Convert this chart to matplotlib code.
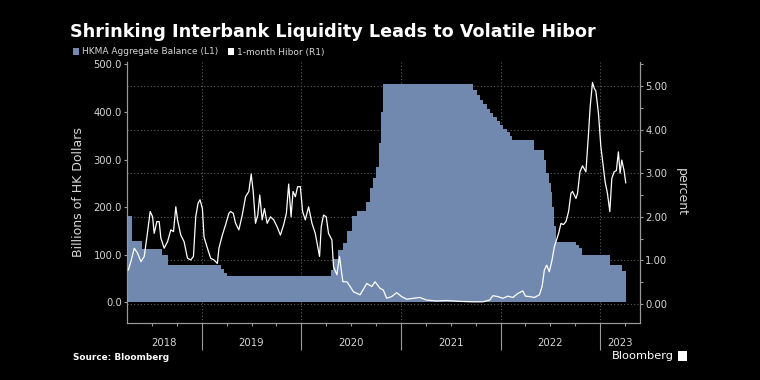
import matplotlib
matplotlib.use("Agg")
import matplotlib.pyplot as plt
import matplotlib.transforms as mtransforms
from matplotlib.patches import Patch, Rectangle
import numpy as np

# ---------------- data ----------------
# HKMA aggregate balance (billions HKD), step series: decimal year, value
bal_t = [2018.26, 2018.30, 2018.40, 2018.60, 2018.66, 2019.19, 2019.22, 2019.25,
         2020.30, 2020.32, 2020.37, 2020.42, 2020.46, 2020.51, 2020.56, 2020.65,
         2020.69, 2020.72, 2020.75, 2020.78, 2020.80, 2020.82, 2021.69, 2021.72,
         2021.76, 2021.79, 2021.82, 2021.86, 2021.89, 2021.92, 2021.96, 2021.99,
         2022.02, 2022.06, 2022.09, 2022.12, 2022.34, 2022.44, 2022.46, 2022.49,
         2022.51, 2022.52, 2022.54, 2022.56, 2022.76, 2022.79, 2022.82, 2023.10,
         2023.22, 2023.257]
bal_v = [181, 129, 111, 99, 78, 70, 62, 55,
         68, 90, 110, 125, 150, 182, 192, 210,
         240, 262, 285, 335, 400, 458, 458, 446,
         436, 425, 416, 407, 398, 390, 381, 372,
         365, 358, 350, 341, 321, 300, 272, 250,
         232, 200, 160, 127, 120, 114, 99, 78,
         66, 66]

# 1-month Hibor (percent)
hibor_t = [2018.263, 2018.29, 2018.323, 2018.357, 2018.39, 2018.423, 2018.45, 2018.483,
           2018.507, 2018.523, 2018.55, 2018.573, 2018.59, 2018.623, 2018.657, 2018.69,
           2018.717, 2018.74, 2018.757, 2018.79, 2018.823, 2018.857, 2018.89, 2018.917,
           2018.94, 2018.963, 2018.983, 2019.007, 2019.023, 2019.057, 2019.09, 2019.123,
           2019.157, 2019.173, 2019.207, 2019.24, 2019.273, 2019.29, 2019.317, 2019.34,
           2019.373, 2019.407, 2019.44, 2019.473, 2019.497, 2019.517, 2019.54, 2019.563,
           2019.583, 2019.607, 2019.63, 2019.657, 2019.69, 2019.723, 2019.757, 2019.79,
           2019.823, 2019.85, 2019.873, 2019.897, 2019.917, 2019.94, 2019.963, 2019.99,
           2020.013, 2020.04, 2020.073, 2020.107, 2020.14, 2020.183, 2020.2, 2020.223,
           2020.25, 2020.273, 2020.307, 2020.323, 2020.357, 2020.383, 2020.417, 2020.457,
           2020.49, 2020.523, 2020.59, 2020.657, 2020.707, 2020.74, 2020.79, 2020.823,
           2020.857, 2020.907, 2020.957, 2021.007, 2021.057, 2021.123, 2021.19, 2021.257,
           2021.357, 2021.457, 2021.59, 2021.723, 2021.823, 2021.89, 2021.923, 2021.973,
           2022.023, 2022.073, 2022.123, 2022.173, 2022.223, 2022.25, 2022.29, 2022.34,
           2022.39, 2022.417, 2022.44, 2022.463, 2022.49, 2022.517, 2022.54, 2022.557,
           2022.583, 2022.607, 2022.63, 2022.657, 2022.683, 2022.707, 2022.723, 2022.757,
           2022.773, 2022.797, 2022.823, 2022.857, 2022.883, 2022.9, 2022.923, 2022.94,
           2022.957, 2022.983, 2023.007, 2023.03, 2023.05, 2023.073, 2023.097, 2023.117,
           2023.14, 2023.163, 2023.183, 2023.2, 2023.217, 2023.24, 2023.257]
hibor_v = [0.78, 0.98, 1.28, 1.16, 0.97, 1.09, 1.54, 2.12,
           2.00, 1.62, 1.89, 1.89, 1.51, 1.28, 1.43, 1.70,
           1.66, 2.23, 1.93, 1.58, 1.43, 1.05, 1.01, 1.09,
           2.00, 2.31, 2.39, 2.19, 1.54, 1.28, 1.05, 1.01,
           0.93, 1.28, 1.58, 1.82, 2.08, 2.12, 2.08, 1.85,
           1.70, 2.04, 2.46, 2.58, 2.98, 2.58, 1.85, 2.04,
           2.50, 1.93, 2.19, 1.85, 2.00, 1.93, 1.77, 1.58,
           1.82, 2.08, 2.75, 2.00, 2.58, 2.46, 2.69, 2.69,
           2.12, 1.93, 2.23, 1.85, 1.62, 1.09, 1.77, 2.04,
           2.00, 1.62, 1.47, 0.86, 0.67, 1.09, 0.51, 0.51,
           0.40, 0.28, 0.21, 0.47, 0.40, 0.51, 0.36, 0.32,
           0.13, 0.17, 0.26, 0.17, 0.11, 0.13, 0.15, 0.09,
           0.07, 0.08, 0.06, 0.05, 0.05, 0.09, 0.19, 0.17,
           0.13, 0.18, 0.15, 0.24, 0.30, 0.18, 0.17, 0.15,
           0.21, 0.40, 0.78, 0.89, 0.74, 1.01, 1.31, 1.43,
           1.62, 1.85, 1.82, 1.89, 2.12, 2.54, 2.58, 2.42,
           2.54, 3.03, 3.17, 3.03, 3.91, 4.53, 5.08, 4.95,
           4.88, 4.37, 3.61, 3.17, 2.80, 2.54, 2.12, 2.88,
           3.03, 3.06, 3.49, 3.00, 3.30, 3.06, 2.78]

years = [2018, 2019, 2020, 2021, 2022, 2023]
left_ticks = [0, 100, 200, 300, 400, 500]
right_ticks = [0, 1, 2, 3, 4, 5]

title = "Shrinking Interbank Liquidity Leads to Volatile Hibor"
legend_labels = ["HKMA Aggregate Balance (L1)", "1-month Hibor (R1)"]
left_label = "Billions of HK Dollars"
right_label = "percent"
source = "Source: Bloomberg"

# ---------------- style ----------------
BG = "#000000"
AREA = "#7189ae"
TXT = "#d6d6d6"
SPINE = "#9a9a9a"
GRID = "#5a5a5a"

xlim = (2018.25, 2023.40)

fig = plt.figure(figsize=(7.6, 3.8), dpi=100, facecolor=BG)
ax = fig.add_axes([127/760, 1-323/380, (640-127)/760, (323-62)/380])
ax.set_facecolor(BG)
ax2 = ax.twinx()

ax.set_xlim(*xlim)
ax.set_ylim(-43.5, 505)
ax2.set_ylim(-0.436, 5.55)

# gridlines behind area (horizontal at right-axis ticks)
bt = mtransforms.blended_transform_factory(ax.transAxes, ax2.transData)
for r in right_ticks:
    ax.plot([0, 1], [r, r], transform=bt, ls=(0, (1, 2)), color=GRID, lw=0.8, zorder=0.5)
for y in years[1:]:
    ax.axvline(y, ls=(0, (1, 2)), color=GRID, lw=0.8, zorder=0.5)

ax.fill_between(bal_t, bal_v, 0, step="post", color=AREA, lw=0, zorder=1)
ax2.plot(hibor_t, hibor_v, color="white", lw=0.9, zorder=3)

# axes / spines
for a in (ax, ax2):
    a.spines["top"].set_visible(False)
    for s in ("left", "right", "bottom"):
        a.spines[s].set_color(SPINE)
        a.spines[s].set_linewidth(0.8)

ax.set_yticks(left_ticks)
ax.set_yticklabels([f"{v:.1f}" for v in left_ticks])
ax.tick_params(axis="y", colors=SPINE, labelcolor=TXT, labelsize=7.2, length=2.2, width=0.8, pad=1.5)
ax2.set_yticks(right_ticks)
ax2.set_yticklabels([f"{v:.2f}" for v in right_ticks])
ax2.set_yticks([v + 0.5 for v in right_ticks], minor=True)
ax2.tick_params(axis="y", which="both", colors=SPINE, labelcolor=TXT, labelsize=7.2, length=2.2, width=0.8, pad=1.5)

ax.set_xticks(years[1:])
ax.set_xticklabels([])
quarters = [y + q for y in years for q in (0.25, 0.5, 0.75) if xlim[0] < y + q < xlim[1]]
ax.set_xticks(quarters, minor=True)
ax.tick_params(axis="x", which="major", colors=SPINE, length=19.5, width=0.8)
ax.tick_params(axis="x", which="minor", colors=SPINE, length=2.2, width=0.8)
ax2.tick_params(axis="x", which="both", length=0)

xt = mtransforms.blended_transform_factory(ax.transData, fig.transFigure)
for y in years:
    mid = (max(y, xlim[0]) + min(y + 1, xlim[1])) / 2
    ax.text(mid, 1 - 343/380, str(y), transform=xt, ha="center", va="center",
            color=TXT, fontsize=7.3, clip_on=False)

# labels
fig.text(78/760, 1 - 192/380, left_label, rotation=90, ha="center", va="center",
         color=TXT, fontsize=9)
fig.text(681/760, 1 - 192/380, right_label, rotation=270, ha="center", va="center",
         color=TXT, fontsize=9)

fig.text(70/760, 1 - 37/380, title, ha="left", va="baseline", color="white",
         fontsize=12.7, fontweight="bold")

handles = [Patch(facecolor=AREA, edgecolor="none"), Patch(facecolor="white", edgecolor="none")]
fig.legend(handles, legend_labels, loc="center left", bbox_to_anchor=(73/760, 1 - 52/380),
           ncol=2, frameon=False, fontsize=6.5, labelcolor=TXT, handlelength=0.7,
           handleheight=0.7, handletextpad=0.35, columnspacing=1.0, borderpad=0,
           borderaxespad=0)

fig.text(73/760, 1 - 358/380, source, ha="left", va="center", color="white",
         fontsize=6.4, fontweight="bold")
fig.text(612/760, 1 - 356/380, "Bloomberg", ha="left", va="center", color="white",
         fontsize=8.2)
fig.patches.append(Rectangle((678/760, 1 - 361/380), 9/760, 10/380, transform=fig.transFigure,
                             facecolor="white", edgecolor="none"))

fig.savefig("out.png", dpi=100, facecolor=BG)
